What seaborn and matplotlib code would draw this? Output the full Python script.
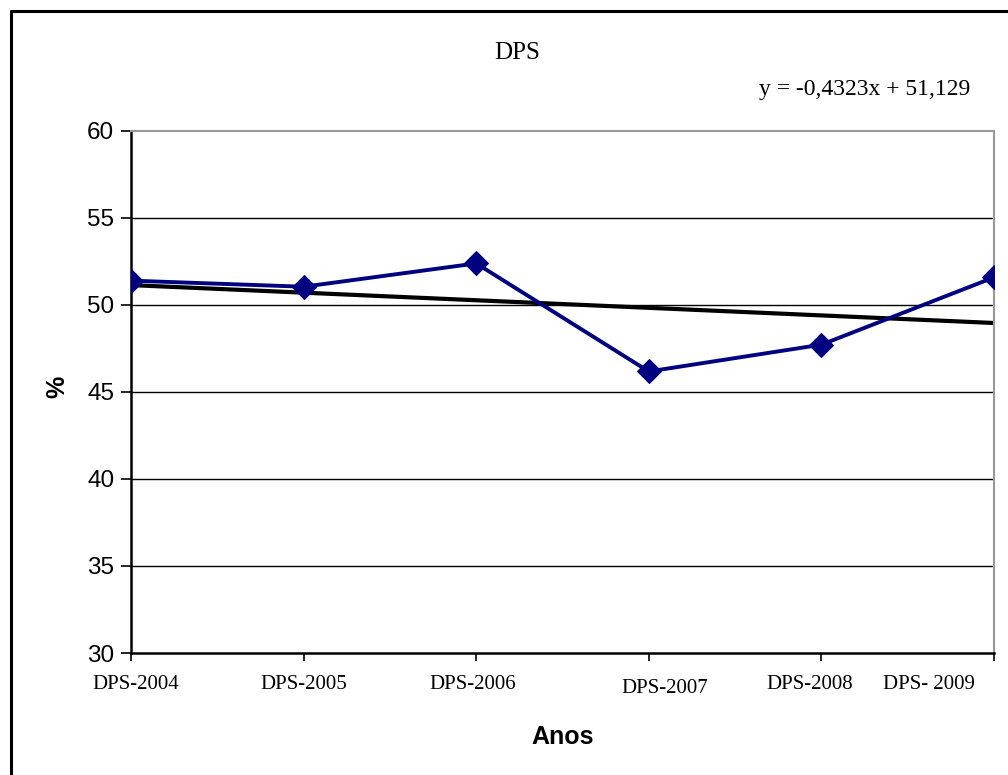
import numpy as np
import pandas as pd
import matplotlib
matplotlib.use("Agg")
import matplotlib.pyplot as plt
import matplotlib.transforms as mtransforms
import seaborn as sns
from matplotlib.lines import Line2D

# data
anos = ["DPS-2004", "DPS-2005", "DPS-2006", "DPS-2007", "DPS-2008", "DPS- 2009"]
dps = [51.40, 51.05, 52.39, 46.18, 47.72, 51.59]
equacao = "y = -0,4323x + 51,129"

df = pd.DataFrame({"pos": np.arange(len(anos)), "ano": anos, "dps": dps})

sns.set_theme(style="white")
plt.rcParams["font.family"] = ["Liberation Sans", "DejaVu Sans"]
plt.rcParams["text.color"] = "black"
plt.rcParams["axes.labelcolor"] = "black"
plt.rcParams["xtick.color"] = "black"
plt.rcParams["ytick.color"] = "black"

W, H = 1008, 775
fig = plt.figure(figsize=(W / 100, H / 100), dpi=100)
ax = fig.add_axes([131 / W, 1 - 653 / H, (994 - 131) / W, (653 - 131) / H])

# outer chart border (left and top visible, rest off image)
fig.add_artist(Line2D([11 / W, 11 / W], [0, 1 - 11 / H], color="black", lw=2.2,
                      transform=fig.transFigure))
fig.add_artist(Line2D([11 / W, 1], [1 - 11 / H, 1 - 11 / H], color="black", lw=2.2,
                      transform=fig.transFigure))

# gridlines
for v in [35, 40, 45, 50, 55]:
    ax.axhline(v, color="black", lw=1.0, zorder=0)

sns.lineplot(data=df, x="pos", y="dps", ax=ax, color="#000080", lw=2.8,
             marker="D", markersize=12, markeredgecolor="#000080", zorder=3)
sns.regplot(data=df, x="pos", y="dps", ax=ax, scatter=False, ci=None,
            line_kws={"color": "black", "lw": 3.0, "zorder": 2})

ax.set_xlim(0, len(anos) - 1)
ax.set_ylim(30, 60)
ax.set_yticks([30, 35, 40, 45, 50, 55, 60])
ax.set_yticklabels(["30", "35", "40", "45", "50", "55", "60"], fontsize=17.5)
ax.set_xticks(df["pos"])
ax.set_xticklabels(anos, fontsize=15, family="Liberation Serif")
ax.tick_params(axis="y", direction="out", length=7, width=1.2, pad=5, left=True)
ax.tick_params(axis="x", direction="out", length=6, width=1.2, pad=10, bottom=True)

# Excel staggers the category labels a little
shifts = [(5, 0), (0, 0), (-4, 0), (16, -4), (-12, 0), (-19, 0)]
for lab, (dx, dy) in zip(ax.get_xticklabels(), shifts):
    lab.set_transform(lab.get_transform() +
                      mtransforms.ScaledTranslation(dx / 100, dy / 100, fig.dpi_scale_trans))
ax.get_xticklabels()[-1].set_horizontalalignment("right")

for s in ["left", "bottom"]:
    ax.spines[s].set_color("black")
    ax.spines[s].set_linewidth(1.8)
for s in ["top", "right"]:
    ax.spines[s].set_color("#999999")
    ax.spines[s].set_linewidth(1.5)

ax.set_xlabel("")
ax.set_ylabel("")
fig.text(563 / W, 1 - 737 / H, "Anos", fontsize=18, fontweight="bold",
         ha="center", va="center")
fig.text(57 / W, 1 - 387 / H, "%", fontsize=18, fontweight="bold", rotation=90,
         ha="center", va="center")

fig.text(517 / W, 1 - 53 / H, "DPS", fontsize=18, family="Liberation Serif",
         ha="center", va="center")
fig.text(970 / W, 1 - 90 / H, equacao, fontsize=17, family="Liberation Serif",
         ha="right", va="center")

fig.savefig("out.png", dpi=100)
